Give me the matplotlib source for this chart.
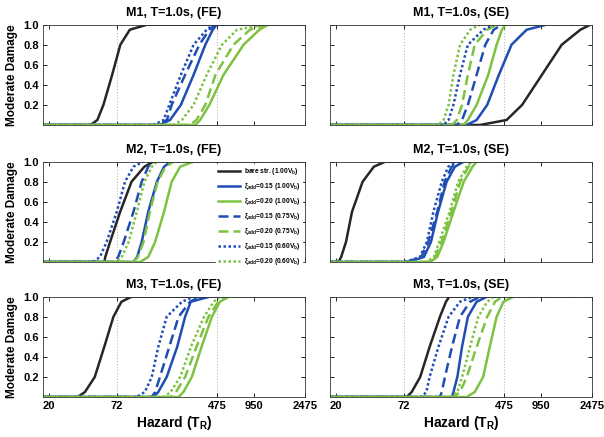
import matplotlib
matplotlib.use("Agg")
import matplotlib.pyplot as plt
import numpy as np

plt.rcParams['font.family'] = ['Liberation Sans', 'DejaVu Sans']
plt.rcParams['font.weight'] = 'bold'
plt.rcParams['mathtext.fontset'] = 'custom'
plt.rcParams['mathtext.bf'] = 'Liberation Sans:bold'
plt.rcParams['mathtext.rm'] = 'Liberation Sans:bold'
plt.rcParams['mathtext.it'] = 'Liberation Sans:bold'
plt.rcParams['mathtext.default'] = 'bf'

# probability levels at which the hazard values were read
levels = [0, 0.05, 0.2, 0.5, 0.8, 0.95, 1.0]
tr_min, tr_max = 18, 2475
tr_ticks = [20, 72, 475, 950, 2475]
grid_tr = [72, 475]

labels = ['bare str. (1.00V$_b$)',
          r'$\xi_{add}$=0.15 (1.00V$_b$)',
          r'$\xi_{add}$=0.20 (1.00V$_b$)',
          r'$\xi_{add}$=0.15 (0.75V$_b$)',
          r'$\xi_{add}$=0.20 (0.75V$_b$)',
          r'$\xi_{add}$=0.15 (0.60V$_b$)',
          r'$\xi_{add}$=0.20 (0.60V$_b$)']

# hazard (return period) reached at each level, one row per curve (same order as labels)
m1_fe = [[44, 50, 56, 66, 77, 92, 127],
         [162, 196, 240, 305, 380, 437, 470],
         [315, 345, 410, 535, 780, 1050, 1240],
         [153, 185, 202, 260, 340, 410, 460],
         [285, 322, 380, 460, 645, 880, 1200],
         [143, 174, 193, 240, 305, 390, 445],
         [209, 245, 305, 390, 520, 690, 1135]]
m1_se = [[302, 497, 665, 965, 1400, 1990, 2400],
         [235, 283, 345, 430, 545, 725, 1050],
         [222, 240, 283, 352, 412, 455, 488],
         [195, 215, 240, 283, 333, 390, 455],
         [178, 195, 215, 240, 273, 345, 412],
         [152, 167, 183, 207, 240, 322, 390],
         [138, 152, 167, 183, 207, 251, 302]]
m2_fe = [[57, 58, 63.5, 76.7, 95, 121, 143],
         [98.5, 105.5, 115, 130, 153, 175, 198],
         [112, 130, 148, 175, 202, 237, 305],
         [68, 74, 82, 98.5, 115, 130, 143],
         [98.5, 107, 119, 134, 155, 180, 209],
         [46, 52.5, 59.5, 72, 84, 98.5, 118],
         [70, 79, 90, 105, 121, 139, 153]]
m2_se = [[21.1, 22.2, 24.3, 27.2, 33.2, 41, 50.7],
         [78.6, 105, 120, 137, 161, 188, 222],
         [118, 135, 152, 183, 222, 262, 283],
         [76, 100, 114, 135, 155, 177, 207],
         [114, 130, 146, 176, 208, 243, 267],
         [73.6, 97.5, 111, 125.6, 147, 166, 196],
         [111, 127, 140, 170, 200, 235, 258]]
m3_fe = [[34.5, 39.6, 47.6, 56.9, 67.6, 78.6, 95],
         [143, 157, 184, 224, 260, 289, 412],
         [230, 252, 295, 354, 430, 500, 590],
         [139, 148, 162, 193, 230, 285, 345],
         [198, 219, 260, 322, 403, 485, 550],
         [104.5, 122, 139, 157, 184, 245, 305],
         [175, 198, 237, 290, 371, 445, 500]]
m3_se = [[76, 83.5, 98, 117, 142, 159, 169],
         [178, 183, 197, 215, 240, 283, 345],
         [235, 273, 320, 362, 412, 468, 565],
         [142, 147, 156, 178, 207, 250, 302],
         [183, 207, 235, 283, 345, 400, 455],
         [100, 110, 117, 138, 167, 207, 263],
         [173, 197, 215, 250, 292, 345, 390]]

black = '#262626'
blue = '#1f4db3'
green = '#7dc242'
colors = [black, blue, green, blue, green, blue, green]
dots = (0, (1, 1))
dashes = (0, (4, 2))
styles = ['-', '-', '-', dashes, dashes, dots, dots]

fig = plt.figure(figsize=(6.04, 4.37), dpi=100)

panels = [(m1_fe, 'M1, T=1.0s, (FE)'), (m1_se, 'M1, T=1.0s, (SE)'),
          (m2_fe, 'M2, T=1.0s, (FE)'), (m2_se, 'M2, T=1.0s, (SE)'),
          (m3_fe, 'M3, T=1.0s, (FE)'), (m3_se, 'M3, T=1.0s, (SE)')]
lefts = [0.0712, 0.5464]
bottoms = [0.714, 0.4005, 0.0915]
w, h = 0.4338, 0.2295

for i, (curves, title) in enumerate(panels):
    row, col = i // 2, i % 2
    ax = fig.add_axes([lefts[col], bottoms[row], w, h])
    for g in grid_tr:
        ax.axvline(g, color='#bbbbbb', linestyle=':', linewidth=0.8, zorder=0)
    for k, vals in enumerate(curves):
        x = [tr_min] + vals + [tr_max]
        y = [0] + levels + [1]
        ax.plot(x, y, color=colors[k], linestyle=styles[k], linewidth=1.8,
                label=labels[k])
    ax.set_xscale('log')
    ax.set_xlim(tr_min, tr_max)
    ax.set_ylim(0, 1)
    ax.set_xticks(tr_ticks)
    ax.xaxis.set_minor_locator(matplotlib.ticker.NullLocator())
    ax.set_yticks([0.2, 0.4, 0.6, 0.8, 1.0])
    ax.tick_params(direction='in', top=True, right=True, labelsize=8,
                   length=3, width=0.6, pad=3)
    for s in ax.spines.values():
        s.set_linewidth(0.6)
        s.set_color('#333333')
    ax.set_title(title, fontsize=9, fontweight='bold', pad=6)
    if row == 2:
        ax.set_xticklabels([str(t) for t in tr_ticks])
        ax.set_xlabel('Hazard (T$_R$)', fontsize=10, fontweight='bold', labelpad=2)
    else:
        ax.set_xticklabels([])
    if col == 0:
        ax.set_yticklabels(['0.2', '0.4', '0.6', '0.8', '1.0'])
        ax.set_ylabel('Moderate Damage', fontsize=8.5, fontweight='bold', labelpad=4)
    else:
        ax.set_yticklabels([])
    if i == 2:
        leg = ax.legend(loc='upper right', fontsize=4.8, handlelength=3.4,
                        handletextpad=0.5, labelspacing=0.6,
                        borderaxespad=0.4, borderpad=0.3, frameon=True,
                        facecolor='white', edgecolor='white', framealpha=1)
        for t in leg.get_texts():
            t.set_fontweight('bold')

fig.savefig('out.png', dpi=100)
